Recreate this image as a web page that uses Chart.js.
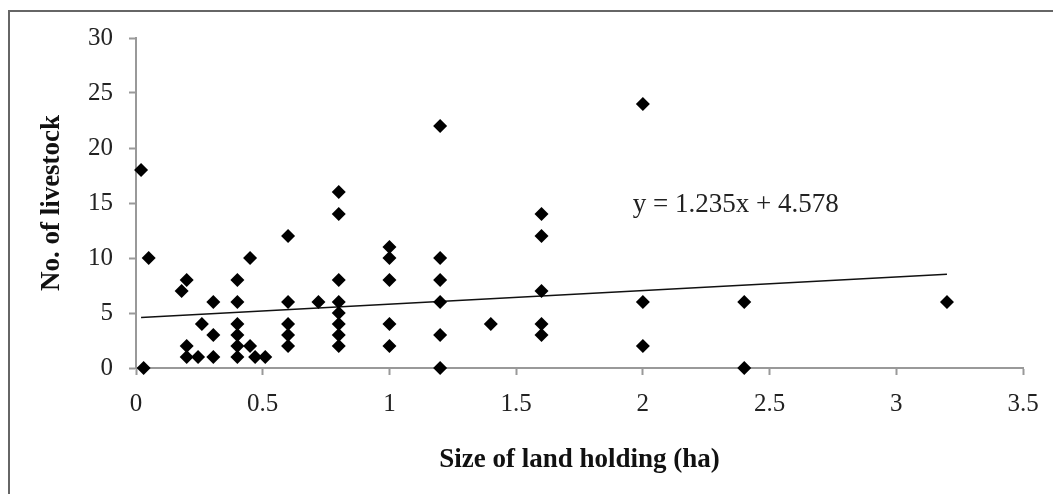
<!DOCTYPE html>
<html>
<head>
<meta charset="utf-8">
<script src="https://cdn.jsdelivr.net/npm/chart.js@4"></script>
<style>
  html, body { margin: 0; padding: 0; background: #fff; overflow: hidden; }
  #wrap { position: relative; width: 1053px; height: 494px; }
  #frame { position: absolute; left: 8px; top: 10px; width: 1100px; height: 600px; border: 2px solid #666; }
  canvas { position: absolute; left: 0; top: 0; }
</style>
</head>
<body>
<div id="wrap">
  <div id="frame"></div>
  <canvas id="chart" width="1053" height="494"></canvas>
</div>
<script>
// land holding (ha) vs number of livestock
const landSize = [
  0.02, 0.03, 0.05,
  0.18, 0.2, 0.2, 0.2, 0.245, 0.26, 0.305, 0.305, 0.305,
  0.4, 0.4, 0.4, 0.4, 0.4, 0.4, 0.45, 0.45, 0.47, 0.51,
  0.6, 0.6, 0.6, 0.6, 0.6, 0.72,
  0.8, 0.8, 0.8, 0.8, 0.8, 0.8, 0.8, 0.8,
  1, 1, 1, 1, 1,
  1.2, 1.2, 1.2, 1.2, 1.2, 1.2, 1.4,
  1.6, 1.6, 1.6, 1.6, 1.6,
  2, 2, 2, 2.4, 2.4, 3.2
];
const livestock = [
  18, 0, 10,
  7, 8, 2, 1, 1, 4, 6, 3, 1,
  8, 6, 4, 3, 2, 1, 10, 2, 1, 1,
  12, 6, 4, 3, 2, 6,
  16, 14, 8, 6, 5, 4, 3, 2,
  11, 10, 8, 4, 2,
  22, 10, 8, 6, 3, 0, 4,
  14, 12, 7, 4, 3,
  24, 6, 2, 6, 0, 6
];
// trend line ends, as drawn
const trendX = [0.02, 3.2];
const trendY = [4.6, 8.53];
const equationText = "y = 1.235x + 4.578";

const xTicks = [0, 0.5, 1, 1.5, 2, 2.5, 3, 3.5];
const xTickLabels = ["0", "0.5", "1", "1.5", "2", "2.5", "3", "3.5"];
const yTicks = [0, 5, 10, 15, 20, 25, 30];

const serif = "'Liberation Serif', 'Times New Roman', serif";

const equationLabel = {
  id: "equationLabel",
  afterDatasetsDraw(chart) {
    const { ctx, scales } = chart;
    ctx.save();
    ctx.font = "27px " + serif;
    ctx.fillStyle = "#222";
    ctx.textBaseline = "middle";
    ctx.textAlign = "left";
    ctx.fillText(equationText, scales.x.getPixelForValue(1.96), scales.y.getPixelForValue(14.8));
    ctx.restore();
  }
};

new Chart(document.getElementById("chart"), {
  type: "scatter",
  data: {
    datasets: [
      {
        label: "Livestock",
        data: landSize.map((x, i) => ({ x, y: livestock[i] })),
        pointStyle: "rectRot",
        pointRadius: 7,
        pointHoverRadius: 7,
        backgroundColor: "#000",
        borderColor: "#000",
        borderWidth: 0,
        clip: false
      },
      {
        type: "line",
        label: "Trend",
        data: trendX.map((x, i) => ({ x, y: trendY[i] })),
        borderColor: "#111",
        borderWidth: 1.5,
        pointRadius: 0,
        fill: false
      }
    ]
  },
  options: {
    responsive: false,
    animation: false,
    layout: { padding: { top: 38, right: 30, bottom: 0, left: 0 } },
    plugins: { legend: { display: false }, tooltip: { enabled: false } },
    scales: {
      x: {
        type: "linear",
        min: 0,
        max: 3.5,
        afterFit: s => { s.height = 126; },
        afterBuildTicks: s => { s.ticks = xTicks.map(v => ({ value: v })); },
        grid: { drawOnChartArea: false, tickLength: 7, tickColor: "#999", tickWidth: 2 },
        border: { color: "#999", width: 2 },
        ticks: {
          font: { family: serif, size: 25 },
          color: "#222",
          padding: 14,
          maxRotation: 0,
          callback: (v, i) => xTickLabels[i]
        },
        title: {
          display: true,
          text: "Size of land holding (ha)",
          font: { family: serif, size: 27, weight: "bold" },
          color: "#111",
          padding: { top: 0, bottom: 18 }
        }
      },
      y: {
        type: "linear",
        min: 0,
        max: 30,
        afterFit: s => { s.width = 136; },
        afterBuildTicks: s => { s.ticks = yTicks.map(v => ({ value: v })); },
        grid: { drawOnChartArea: false, tickLength: 7, tickColor: "#999", tickWidth: 2 },
        border: { color: "#999", width: 2 },
        ticks: { font: { family: serif, size: 25 }, color: "#222", padding: 16 },
        title: {
          display: true,
          text: "No. of livestock",
          font: { family: serif, size: 27, weight: "bold" },
          color: "#111",
          padding: { top: 36, bottom: 0 }
        }
      }
    }
  },
  plugins: [equationLabel]
});
</script>
</body>
</html>
